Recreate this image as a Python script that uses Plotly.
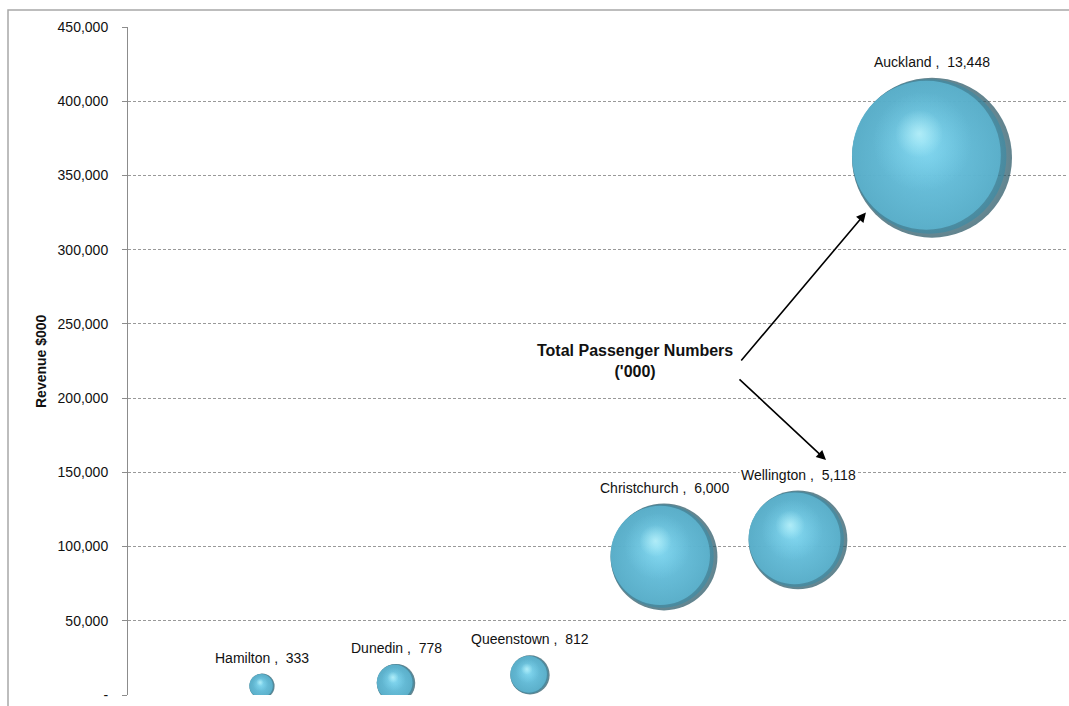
import plotly.graph_objects as go

# Airport data: revenue ($000) and total passengers ('000)
cities = ["Hamilton", "Dunedin", "Queenstown", "Christchurch", "Wellington", "Auckland"]
x_pos = [1, 2, 3, 4, 5, 6]
revenue = [6000, 8000, 13500, 93000, 104500, 362000]
passengers = [333, 778, 812, 6000, 5118, 13448]

y_tickvals = [0, 50000, 100000, 150000, 200000, 250000, 300000, 350000, 400000, 450000]
y_ticktext = ["-", "50,000", "100,000", "150,000", "200,000", "250,000",
              "300,000", "350,000", "400,000", "450,000"]

W, H = 1069, 706
M = dict(l=128, r=3, t=27, b=11)
X_RANGE = [0, 7]
Y_RANGE = [0, 450000]
plot_w = W - M["l"] - M["r"]
plot_h = H - M["t"] - M["b"]
px_per_x = plot_w / (X_RANGE[1] - X_RANGE[0])
px_per_y = plot_h / (Y_RANGE[1] - Y_RANGE[0])

MAX_D = 160
sizeref = 2.0 * max(passengers) / MAX_D ** 2
radii = [(p / sizeref / 2) ** 0.5 for p in passengers]  # marker radius in px

FONT = "Liberation Sans, Arial"

fig = go.Figure()


def sphere_layer(scale, dx, dy, edge, centre):
    """Add one shading layer: a radial-gradient disc scaled and shifted
    (in units of each bubble's radius) relative to the bubble."""
    xs = [x + dx * r / px_per_x for x, r in zip(x_pos, radii)]
    ys = [y + dy * r / px_per_y for y, r in zip(revenue, radii)]
    fig.add_trace(go.Scatter(
        x=xs, y=ys, mode="markers",
        marker=dict(size=[p * scale ** 2 for p in passengers], sizemode="area",
                    sizeref=sizeref, color=edge, line=dict(width=0),
                    gradient=dict(type="radial", color=centre)),
        hoverinfo="skip", showlegend=False,
    ))


# Dark sphere body, softening ring, lit face up-left, glow and specular spot
sphere_layer(1.0, 0, 0, "#1f4f5e", "#4fa9c4")
sphere_layer(0.965, -0.035, 0.015, "#3d8aa3", "#5cb6d2")
sphere_layer(0.93, -0.07, 0.03, "#62bedb", "#74cdea")
sphere_layer(0.62, -0.12, 0.2, "rgba(130,218,242,0)", "rgba(150,230,250,0.9)")
sphere_layer(0.3, -0.16, 0.3, "rgba(185,246,255,0)", "rgba(205,251,255,0.9)")

annotations = []
# Bubble labels with white boxes
for name, x, y, p, r in zip(cities, x_pos, revenue, passengers, radii):
    annotations.append(dict(
        x=x, y=y, xref="x", yref="y", yshift=r + 16,
        text=f"{name} ,  {p:,}", showarrow=False,
        font=dict(family=FONT, size=14, color="#111"),
        bgcolor="white", xanchor="center", yanchor="middle",
    ))

# Callout text and arrows
annotations.append(dict(
    x=3.78, y=225000, xref="x", yref="y", showarrow=False,
    text="<b>Total Passenger Numbers<br>('000)</b>",
    font=dict(family=FONT, size=16, color="#111"),
    align="center", xanchor="center", yanchor="middle",
))
annotations.append(dict(
    x=5.507, y=325000, ax=4.567, ay=224300, xref="x", yref="y",
    axref="x", ayref="y", text="", showarrow=True,
    arrowhead=2, arrowsize=1.2, arrowwidth=1.6, arrowcolor="black",
))
annotations.append(dict(
    x=5.209, y=158300, ax=4.552, ay=213600, xref="x", yref="y",
    axref="x", ayref="y", text="", showarrow=True,
    arrowhead=2, arrowsize=1.2, arrowwidth=1.6, arrowcolor="black",
))

# Y axis title
annotations.append(dict(
    x=(41 - M["l"]) / plot_w, y=0.5, xref="paper", yref="paper",
    text="<b>Revenue $000</b>", textangle=-90, showarrow=False,
    font=dict(family=FONT, size=14, color="#111"),
    xanchor="center", yanchor="middle",
))

fig.update_layout(
    width=W, height=H, margin=M,
    paper_bgcolor="white", plot_bgcolor="white",
    annotations=annotations,
    shapes=[dict(type="rect", xref="paper", yref="paper",
                 x0=(8 - M["l"]) / plot_w, x1=1.2,
                 y0=-0.2, y1=1 + (M["t"] - 10) / plot_h,
                 line=dict(color="#a8a8a8", width=1.5), layer="below")],
    xaxis=dict(range=X_RANGE, visible=False, showgrid=False, zeroline=False),
    yaxis=dict(range=Y_RANGE, tickvals=y_tickvals, ticktext=y_ticktext,
               showline=True, linecolor="#8c8c8c", linewidth=1,
               ticks="outside", ticklen=5, tickcolor="#8c8c8c",
               showgrid=True, gridcolor="#999999", griddash="3px,2px", gridwidth=1,
               zeroline=False, ticklabelstandoff=11,
               tickfont=dict(family=FONT, size=14, color="#111")),
)

fig.write_html("out.html")
